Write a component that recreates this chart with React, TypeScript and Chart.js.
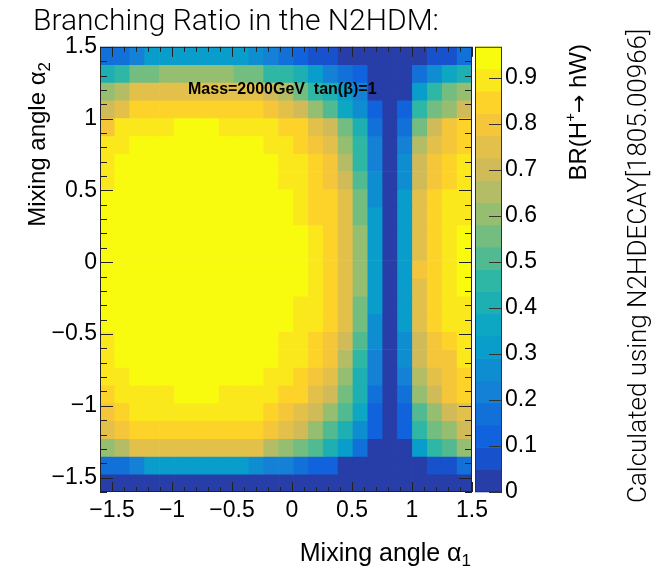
import React, { useEffect, useRef } from 'react';
import { Chart, registerables } from 'chart.js';

Chart.register(...registerables);

// ---- axis bins (bin centres) ----
const ALPHA1_CENTERS = [-1.538, -1.414, -1.29, -1.166, -1.042, -0.918, -0.794, -0.67, -0.546, -0.422, -0.298, -0.174, -0.05, 0.074, 0.198, 0.322, 0.446, 0.57, 0.694, 0.818, 0.942, 1.066, 1.19, 1.314, 1.438];
const ALPHA2_CENTERS = [1.438, 1.314, 1.19, 1.066, 0.942, 0.818, 0.694, 0.57, 0.446, 0.322, 0.198, 0.074, -0.05, -0.174, -0.298, -0.422, -0.546, -0.67, -0.794, -0.918, -1.042, -1.166, -1.29, -1.414, -1.538];
const HALF_BIN = 0.062;

// ---- tick labels ----
const X_TICKS = [-1.5, -1, -0.5, 0, 0.5, 1, 1.5];
const Y_TICKS = [-1.5, -1, -0.5, 0, 0.5, 1, 1.5];
const Z_TICKS = [0, 0.1, 0.2, 0.3, 0.4, 0.5, 0.6, 0.7, 0.8, 0.9];

// ---- BR(H+ -> hW) values, one row per alpha2 bin (top to bottom), columns alpha1 ----
const BR_R00 = [0.17, 0.17, 0.22, 0.31, 0.31, 0.31, 0.31, 0.31, 0.31, 0.31, 0.27, 0.22, 0.17, 0.12, 0.07, 0.07, 0.02, 0.02, 0.02, 0.02, 0.02, 0.02, 0.07, 0.07, 0.17];
const BR_R01 = [0.41, 0.46, 0.55, 0.55, 0.60, 0.60, 0.60, 0.60, 0.60, 0.55, 0.55, 0.46, 0.46, 0.41, 0.31, 0.22, 0.17, 0.12, 0.02, 0.02, 0.02, 0.17, 0.27, 0.36, 0.41];
const BR_R02 = [0.60, 0.65, 0.75, 0.75, 0.75, 0.75, 0.75, 0.75, 0.75, 0.75, 0.75, 0.70, 0.65, 0.55, 0.46, 0.41, 0.31, 0.22, 0.02, 0.02, 0.02, 0.31, 0.46, 0.55, 0.60];
const BR_R03 = [0.70, 0.75, 0.85, 0.85, 0.85, 0.85, 0.85, 0.85, 0.85, 0.85, 0.85, 0.80, 0.75, 0.70, 0.60, 0.50, 0.36, 0.27, 0.12, 0.02, 0.12, 0.46, 0.55, 0.60, 0.70];
const BR_R04 = [0.80, 0.90, 0.90, 0.90, 0.90, 0.95, 0.95, 0.95, 0.90, 0.90, 0.90, 0.90, 0.85, 0.85, 0.75, 0.70, 0.55, 0.41, 0.17, 0.02, 0.17, 0.55, 0.70, 0.80, 0.85];
const BR_R05 = [0.90, 0.90, 0.95, 0.95, 0.95, 0.95, 0.95, 0.95, 0.95, 0.95, 0.95, 0.90, 0.90, 0.85, 0.80, 0.75, 0.60, 0.46, 0.22, 0.02, 0.22, 0.65, 0.75, 0.80, 0.85];
const BR_R06 = [0.90, 0.95, 0.95, 0.95, 0.95, 0.95, 0.95, 0.95, 0.95, 0.95, 0.95, 0.95, 0.90, 0.90, 0.85, 0.80, 0.65, 0.46, 0.22, 0.02, 0.27, 0.70, 0.80, 0.85, 0.90];
const BR_R07 = [0.90, 0.95, 0.95, 0.95, 0.95, 0.95, 0.95, 0.95, 0.95, 0.95, 0.95, 0.95, 0.90, 0.90, 0.85, 0.80, 0.70, 0.50, 0.27, 0.02, 0.27, 0.70, 0.80, 0.85, 0.90];
const BR_R08 = [0.95, 0.95, 0.95, 0.95, 0.95, 0.95, 0.95, 0.95, 0.95, 0.95, 0.95, 0.95, 0.95, 0.90, 0.85, 0.85, 0.75, 0.55, 0.27, 0.02, 0.31, 0.75, 0.85, 0.90, 0.90];
const BR_R09 = [0.95, 0.95, 0.95, 0.95, 0.95, 0.95, 0.95, 0.95, 0.95, 0.95, 0.95, 0.95, 0.95, 0.90, 0.85, 0.85, 0.75, 0.55, 0.31, 0.02, 0.31, 0.75, 0.85, 0.90, 0.90];
const BR_R10 = [0.95, 0.95, 0.95, 0.95, 0.95, 0.95, 0.95, 0.95, 0.95, 0.95, 0.95, 0.95, 0.95, 0.95, 0.90, 0.85, 0.75, 0.60, 0.31, 0.02, 0.31, 0.75, 0.85, 0.90, 0.95];
const BR_R11 = [0.95, 0.95, 0.95, 0.95, 0.95, 0.95, 0.95, 0.95, 0.95, 0.95, 0.95, 0.95, 0.95, 0.95, 0.90, 0.85, 0.75, 0.60, 0.31, 0.02, 0.31, 0.75, 0.85, 0.90, 0.95];
const BR_R12 = [0.95, 0.95, 0.95, 0.95, 0.95, 0.95, 0.95, 0.95, 0.95, 0.95, 0.95, 0.95, 0.95, 0.95, 0.90, 0.85, 0.75, 0.60, 0.31, 0.02, 0.31, 0.80, 0.85, 0.90, 0.95];
const BR_R13 = [0.95, 0.95, 0.95, 0.95, 0.95, 0.95, 0.95, 0.95, 0.95, 0.95, 0.95, 0.95, 0.95, 0.95, 0.90, 0.85, 0.75, 0.60, 0.31, 0.02, 0.31, 0.75, 0.85, 0.90, 0.95];
const BR_R14 = [0.95, 0.95, 0.95, 0.95, 0.95, 0.95, 0.95, 0.95, 0.95, 0.95, 0.95, 0.95, 0.95, 0.90, 0.90, 0.85, 0.75, 0.55, 0.31, 0.02, 0.31, 0.75, 0.85, 0.90, 0.90];
const BR_R15 = [0.95, 0.95, 0.95, 0.95, 0.95, 0.95, 0.95, 0.95, 0.95, 0.95, 0.95, 0.95, 0.95, 0.90, 0.90, 0.85, 0.75, 0.55, 0.27, 0.02, 0.31, 0.75, 0.85, 0.90, 0.90];
const BR_R16 = [0.90, 0.95, 0.95, 0.95, 0.95, 0.95, 0.95, 0.95, 0.95, 0.95, 0.95, 0.95, 0.90, 0.90, 0.85, 0.80, 0.70, 0.50, 0.27, 0.02, 0.27, 0.70, 0.80, 0.85, 0.90];
const BR_R17 = [0.90, 0.95, 0.95, 0.95, 0.95, 0.95, 0.95, 0.95, 0.95, 0.95, 0.95, 0.95, 0.90, 0.90, 0.85, 0.80, 0.65, 0.46, 0.22, 0.02, 0.27, 0.70, 0.80, 0.80, 0.90];
const BR_R18 = [0.90, 0.90, 0.95, 0.95, 0.95, 0.95, 0.95, 0.95, 0.95, 0.95, 0.95, 0.90, 0.90, 0.85, 0.80, 0.75, 0.60, 0.41, 0.22, 0.02, 0.22, 0.65, 0.75, 0.80, 0.85];
const BR_R19 = [0.85, 0.90, 0.90, 0.90, 0.90, 0.95, 0.95, 0.95, 0.90, 0.90, 0.90, 0.90, 0.85, 0.85, 0.75, 0.70, 0.55, 0.41, 0.17, 0.02, 0.17, 0.60, 0.70, 0.80, 0.85];
const BR_R20 = [0.80, 0.85, 0.90, 0.90, 0.90, 0.90, 0.90, 0.90, 0.90, 0.90, 0.90, 0.85, 0.80, 0.75, 0.70, 0.60, 0.50, 0.36, 0.12, 0.02, 0.12, 0.50, 0.60, 0.70, 0.75];
const BR_R21 = [0.75, 0.80, 0.85, 0.85, 0.85, 0.85, 0.85, 0.85, 0.85, 0.85, 0.85, 0.80, 0.75, 0.70, 0.60, 0.50, 0.41, 0.27, 0.12, 0.02, 0.12, 0.46, 0.55, 0.60, 0.70];
const BR_R22 = [0.60, 0.65, 0.75, 0.75, 0.75, 0.75, 0.75, 0.75, 0.75, 0.75, 0.75, 0.65, 0.60, 0.55, 0.50, 0.41, 0.31, 0.17, 0.02, 0.02, 0.02, 0.31, 0.46, 0.50, 0.60];
const BR_R23 = [0.17, 0.17, 0.22, 0.31, 0.31, 0.31, 0.31, 0.31, 0.31, 0.31, 0.27, 0.22, 0.22, 0.17, 0.12, 0.12, 0.02, 0.02, 0.02, 0.02, 0.02, 0.02, 0.07, 0.07, 0.17];
const BR_R24 = [0.02, 0.02, 0.02, 0.02, 0.02, 0.02, 0.02, 0.02, 0.02, 0.02, 0.02, 0.02, 0.02, 0.02, 0.02, 0.02, 0.02, 0.02, 0.02, 0.02, 0.02, 0.02, 0.02, 0.02, 0.02];

const BR_ROWS = [BR_R00, BR_R01, BR_R02, BR_R03, BR_R04, BR_R05, BR_R06, BR_R07, BR_R08, BR_R09, BR_R10, BR_R11, BR_R12, BR_R13, BR_R14, BR_R15, BR_R16, BR_R17, BR_R18, BR_R19, BR_R20, BR_R21, BR_R22, BR_R23, BR_R24];

// ---- ROOT "bird" palette with 20 contour levels ----
const Z_MAX = 0.968;
const N_LEVELS = 20;
const BIRD_STOPS = [0.0, 0.125, 0.25, 0.375, 0.5, 0.625, 0.75, 0.875, 1.0];
const BIRD_R = [0.2082, 0.0592, 0.078, 0.0232, 0.1802, 0.5301, 0.8186, 0.9956, 0.9764];
const BIRD_G = [0.1664, 0.3599, 0.5041, 0.6419, 0.7178, 0.7492, 0.7328, 0.7862, 0.9832];
const BIRD_B = [0.5293, 0.8684, 0.8385, 0.7914, 0.6425, 0.4662, 0.3499, 0.1968, 0.0539];

function bird(t: number): string {
  let i = 0;
  while (i < BIRD_STOPS.length - 2 && t > BIRD_STOPS[i + 1]) i++;
  const f = (t - BIRD_STOPS[i]) / (BIRD_STOPS[i + 1] - BIRD_STOPS[i]);
  const c = (a: number[]) => Math.round(255 * (a[i] + (a[i + 1] - a[i]) * f));
  return `rgb(${c(BIRD_R)},${c(BIRD_G)},${c(BIRD_B)})`;
}
function levelColor(k: number): string {
  const t = Math.floor((k + 0.99) * 255 / N_LEVELS) / 254;
  return bird(Math.min(1, t));
}
function colorFor(v: number): string {
  const k = Math.max(0, Math.min(N_LEVELS - 1, Math.floor(v / (Z_MAX / N_LEVELS))));
  return levelColor(k);
}

const SANS = '"Liberation Sans", Arial, Helvetica, sans-serif';
const DEJAVU = '"DejaVu Sans", sans-serif';
const LIGHT = 'Roboto, "Open Sans", sans-serif';

function fmt(v: number): string {
  if (Math.abs(v) < 1e-9) return '0';
  return v < 0 ? '\u2212' + String(Math.abs(v)) : String(v);
}

type Part = { t: string; size: number; dy?: number; family?: string };
function drawRich(ctx: CanvasRenderingContext2D, parts: Part[], family: string, weight: string, x: number, y: number, angle: number, align: 'left' | 'right') {
  ctx.save();
  ctx.translate(x, y);
  ctx.rotate(angle);
  ctx.textBaseline = 'alphabetic';
  ctx.textAlign = 'left';
  ctx.fillStyle = '#000';
  let total = 0;
  for (const p of parts) {
    ctx.font = `${weight} ${p.size}px ${p.family || family}`;
    total += ctx.measureText(p.t).width;
  }
  let cx = align === 'right' ? -total : 0;
  for (const p of parts) {
    ctx.font = `${weight} ${p.size}px ${p.family || family}`;
    ctx.fillText(p.t, cx, p.dy || 0);
    cx += ctx.measureText(p.t).width;
  }
  ctx.restore();
}

const rootDecor = {
  id: 'rootDecor',
  beforeDraw(chart: any) {
    const { ctx, width, height } = chart;
    ctx.save();
    ctx.fillStyle = '#fff';
    ctx.fillRect(0, 0, width, height);
    ctx.restore();
  },
  afterDatasetsDraw(chart: any) {
    const { ctx, chartArea: a, scales } = chart;
    const xs = scales.x, ys = scales.y, zs = scales.z;
    ctx.save();
    // frame
    ctx.strokeStyle = '#222';
    ctx.lineWidth = 1;
    ctx.strokeRect(a.left + 0.5, a.top + 0.5, a.right - a.left - 1, a.bottom - a.top - 1);
    // ticks (inward, all sides)
    ctx.beginPath();
    for (let i = -16; i <= 15; i++) {
      const v = i / 10;
      const major = X_TICKS.some((t) => Math.abs(t - v) < 1e-6);
      const px = Math.round(xs.getPixelForValue(v)) + 0.5;
      const len = major ? 10 : 5;
      ctx.moveTo(px, a.bottom); ctx.lineTo(px, a.bottom - len);
      ctx.moveTo(px, a.top); ctx.lineTo(px, a.top + len);
    }
    for (let i = -16; i <= 15; i++) {
      const v = i / 10;
      const major = Y_TICKS.some((t) => Math.abs(t - v) < 1e-6);
      const py = Math.round(ys.getPixelForValue(v)) + 0.5;
      const len = major ? 13 : 7;
      ctx.moveTo(a.left, py); ctx.lineTo(a.left + len, py);
      ctx.moveTo(a.right, py); ctx.lineTo(a.right - len, py);
    }
    ctx.stroke();

    // colour bar
    const x0 = a.right + 3, x1 = a.right + 30;
    const step = Z_MAX / N_LEVELS;
    for (let k = 0; k < N_LEVELS; k++) {
      const yb = zs.getPixelForValue(k * step);
      const yt = zs.getPixelForValue(Math.min(Z_MAX, (k + 1) * step));
      ctx.fillStyle = levelColor(k);
      ctx.fillRect(x0, yt - 0.3, x1 - x0, yb - yt + 0.6);
    }
    ctx.strokeStyle = '#333';
    ctx.strokeRect(x0 + 0.5, zs.getPixelForValue(Z_MAX) + 0.5, x1 - x0 - 1, zs.getPixelForValue(0) - zs.getPixelForValue(Z_MAX) - 1);
    ctx.beginPath();
    for (const v of Z_TICKS) {
      const py = Math.round(zs.getPixelForValue(v)) + 0.5;
      ctx.moveTo(x1, py); ctx.lineTo(x1 - 13, py);
    }
    ctx.stroke();
    ctx.restore();

    // in-plot label
    ctx.save();
    ctx.fillStyle = '#000';
    ctx.font = `bold 16px ${SANS}`;
    ctx.textBaseline = 'alphabetic';
    ctx.fillText('Mass=2000GeV  tan(\u03B2)=1', 188, 94);
    ctx.restore();
  },
  afterDraw(chart: any) {
    const { ctx } = chart;
    drawRich(ctx, [{ t: 'Branching Ratio in the N2HDM:', size: 30 }], LIGHT, '300', 33, 30, 0, 'left');
    drawRich(ctx, [{ t: 'Mixing angle \u03B1', size: 25 }, { t: '1', size: 17, dy: 5 }], SANS, '400', 471, 561, 0, 'right');
    drawRich(ctx, [{ t: 'Mixing angle \u03B1', size: 24 }, { t: '2', size: 17, dy: 5 }], SANS, '400', 45, 62, -Math.PI / 2, 'right');
    drawRich(ctx, [{ t: 'BR(H', size: 24 }, { t: '+', size: 15, dy: -11 }, { t: '\u2192', size: 22, family: DEJAVU }, { t: ' hW)', size: 24 }], SANS, '400', 586, 44, -Math.PI / 2, 'right');
    drawRich(ctx, [{ t: 'Calculated using N2HDECAY[1805.00966]', size: 26 }], LIGHT, '300', 646, 503, -Math.PI / 2, 'left');
  },
};

export default function App() {
  const ref = useRef<HTMLCanvasElement | null>(null);
  useEffect(() => {
    if (!ref.current) return;
    const datasets = BR_ROWS.map((row, r) => ({
      label: `alpha2=${ALPHA2_CENTERS[r]}`,
      data: row.map((v, c) => ({ x: ALPHA1_CENTERS[c], y: [ALPHA2_CENTERS[r] - HALF_BIN, ALPHA2_CENTERS[r] + HALF_BIN], v })),
      backgroundColor: row.map((v) => colorFor(v)),
      borderWidth: 0,
      borderRadius: 0,
      grouped: false,
      barPercentage: 1,
      categoryPercentage: 1,
    }));
    const tickFont = { family: SANS, size: 23 };
    const chart = new Chart(ref.current, {
      type: 'bar',
      data: { datasets } as any,
      options: {
        animation: false,
        responsive: false,
        maintainAspectRatio: false,
        layout: { padding: { top: 44, left: 0, right: 0, bottom: 0 } },
        plugins: { legend: { display: false }, tooltip: { enabled: false }, title: { display: false } },
        events: [],
        scales: {
          x: {
            type: 'linear', position: 'bottom', min: -1.6, max: 1.5, offset: false,
            grid: { display: false, drawTicks: false }, border: { display: false },
            ticks: { font: tickFont, color: '#000', padding: 5, autoSkip: false, maxRotation: 0, callback: (v: any) => fmt(Number(v)) },
            afterBuildTicks: (s: any) => { s.ticks = X_TICKS.map((value) => ({ value })); },
            afterFit: (s: any) => { s.height = 75; },
          },
          y: {
            type: 'linear', position: 'left', min: -1.6, max: 1.5,
            grid: { display: false, drawTicks: false }, border: { display: false },
            ticks: { font: tickFont, color: '#000', padding: 3, autoSkip: false, callback: (v: any) => fmt(Number(v)) },
            afterBuildTicks: (s: any) => { s.ticks = Y_TICKS.map((value) => ({ value })); },
            afterFit: (s: any) => { s.width = 100; },
          },
          z: {
            type: 'linear', axis: 'y', position: 'right', min: 0, max: Z_MAX,
            grid: { display: false, drawTicks: false }, border: { display: false },
            ticks: { font: tickFont, color: '#000', padding: 33, autoSkip: false, callback: (v: any) => fmt(Number(v)) },
            afterBuildTicks: (s: any) => { s.ticks = Z_TICKS.map((value) => ({ value })); },
            afterFit: (s: any) => { s.width = 180; },
          },
        },
      } as any,
      plugins: [rootDecor as any],
    });
    return () => chart.destroy();
  }, []);
  return (
    <div style={{ position: 'absolute', left: 0, top: 0, width: 652, height: 567, background: '#fff' }}>
      <canvas ref={ref} width={652} height={567} style={{ display: 'block' }} />
    </div>
  );
}
